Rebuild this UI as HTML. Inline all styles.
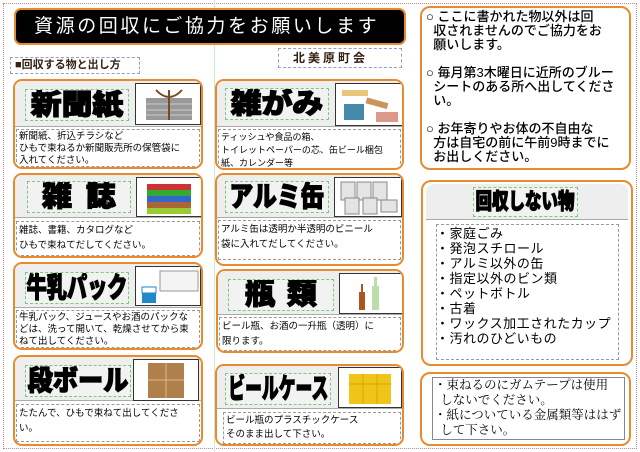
<!DOCTYPE html>
<html><head><meta charset="utf-8">
<style>
*{margin:0;padding:0;box-sizing:border-box}
body{width:640px;height:452px;background:#fff;position:relative;overflow:hidden;font-family:"Liberation Sans","Noto Sans CJK JP",sans-serif;color:#000}
.a{position:absolute}
.page{left:3px;top:3px;width:634px;height:446px;border:1px dotted #c88}
.vl{left:214px;top:0;width:1px;height:452px;background:#cfe8cf}
.title{left:14px;top:8px;width:392px;height:37px;background:#000;border:2px solid #e88a2e;border-radius:7px;color:#fff;font-size:19px;letter-spacing:2.6px;line-height:33px;padding-left:18px;white-space:nowrap;overflow:hidden}
.lab{border:1px dashed #99c;font-weight:bold;font-size:11px;line-height:15px;padding:0 4px;white-space:nowrap}
.card{border:2.5px solid #e88a2e;border-radius:9px;overflow:hidden;background:#fff}
.hd{position:absolute;left:0;top:0;right:0;background:#eee;border-bottom:1px solid #aaa}
.tt{position:absolute;border:1px dashed #7c7;font-weight:900;font-size:28px;line-height:30px;white-space:nowrap;text-align:center;background:#f2f2f2;overflow:hidden}
.tt span{display:inline-block;-webkit-text-stroke:1.2px #000;transform-origin:center}
.im{position:absolute;border:1px solid #333;background:#fff}
.tx{position:absolute;left:1px;right:1px;border:1px dashed #999;font-size:9.5px;line-height:12px;padding:1px 2px}
.box{border:2.5px solid #e88a2e;border-radius:10px;background:#fff}
.inn{position:absolute;border:1px dashed #999}
</style></head><body>
<div class="a page"></div>
<div class="a vl"></div>
<div class="a title">資源の回収にご協力をお願いします</div>
<div class="a lab" style="left:10px;top:57px;width:130px;height:17px;color:#321">■回収する物と出し方</div>
<div class="a lab" style="left:278px;top:48px;width:124px;height:20px;line-height:18px;font-size:12px;letter-spacing:3px;color:#321;padding-left:14px">北美原町会</div>

<div class="a card" style="left:13px;top:79px;width:190px;height:90px">
 <div class="hd" style="height:46px"></div>
 <div class="tt" style="left:10px;top:8px;width:104px;height:32px"><span style="transform:scaleX(1.1)">新聞紙</span></div>
 <div class="im" style="left:120px;top:2px;width:66px;height:42px"><svg width="64" height="40"><rect x="10" y="14" width="46" height="22" fill="#999"/><path d="M10 20h46M10 26h46M10 31h46" stroke="#ccc"/><path d="M33 6v30M20 6q13 14 26 0" stroke="#7a4a20" stroke-width="2" fill="none"/></svg></div>
 <div class="tx" style="top:48px;height:38px">新聞紙、折込チラシなど<br>ひもで束ねるか新聞販売所の保管袋に<br>入れてください。</div>
</div>
<div class="a card" style="left:13px;top:173px;width:190px;height:85px">
 <div class="hd" style="height:43px"></div>
 <div class="tt" style="left:12px;top:6px;width:104px;height:32px"><span style="letter-spacing:14px;margin-right:-14px;font-size:30px">雑誌</span></div>
 <div class="im" style="left:121px;top:2px;width:66px;height:40px"><svg width="64" height="38"><rect x="10" y="6" width="44" height="6" fill="#c33"/><rect x="10" y="12" width="44" height="6" fill="#3a3"/><rect x="10" y="18" width="44" height="6" fill="#36c"/><rect x="10" y="24" width="44" height="6" fill="#a63"/><rect x="10" y="30" width="44" height="6" fill="#9c3"/></svg></div>
 <div class="tx" style="top:46px;height:35px;line-height:15px">雑誌、書籍、カタログなど<br>ひもで束ねてだしてください。</div>
</div>
<div class="a card" style="left:13px;top:262px;width:190px;height:88px">
 <div class="hd" style="height:44px"></div>
 <div class="tt" style="left:10px;top:8px;width:104px;height:32px"><span style="transform:scaleX(0.72);margin:0 -30px">牛乳パック</span></div>
 <div class="im" style="left:120px;top:2px;width:66px;height:40px"><svg width="64" height="38"><rect x="24" y="4" width="38" height="20" fill="#f4f4f4" stroke="#999"/><rect x="6" y="22" width="14" height="14" fill="#28c"/><rect x="6" y="20" width="14" height="6" fill="#fff" stroke="#28c"/></svg></div>
 <div class="tx" style="top:46px;height:38px">牛乳パック、ジュースやお酒のパックな<br>どは、洗って開いて、乾燥させてから束<br>ねて出してください。</div>
</div>
<div class="a card" style="left:13px;top:355px;width:190px;height:91px">
 <div class="hd" style="height:44px"></div>
 <div class="tt" style="left:10px;top:8px;width:106px;height:32px"><span style="transform:scaleX(0.9);margin:0 -10px">段ボール</span></div>
 <div class="im" style="left:118px;top:2px;width:66px;height:42px"><svg width="64" height="40"><rect x="14" y="3" width="36" height="35" fill="#b0804a"/><path d="M32 3v35M14 20h36" stroke="#d8b890"/></svg></div>
 <div class="tx" style="top:47px;height:38px;line-height:15px">たたんで、ひもで束ねて出してくださ<br>い。</div>
</div>

<div class="a card" style="left:215px;top:79px;width:189px;height:91px">
 <div class="hd" style="height:46px"></div>
 <div class="tt" style="left:8px;top:7px;width:104px;height:32px"><span style="transform:scaleX(1.1)">雑がみ</span></div>
 <div class="im" style="left:118px;top:2px;width:68px;height:43px"><svg width="66" height="41"><rect x="6" y="6" width="26" height="6" fill="#e8c77a"/><rect x="8" y="20" width="20" height="16" fill="#48a"/><rect x="30" y="16" width="22" height="6" fill="#c9955a" transform="rotate(15 40 19)"/><rect x="40" y="28" width="22" height="10" fill="#d98"/></svg></div>
 <div class="tx" style="top:48px;height:40px;font-size:9px;line-height:13px">ティッシュや食品の箱、<br>トイレットペーパーの芯、缶ビール梱包<br>紙、カレンダー等</div>
</div>
<div class="a card" style="left:215px;top:173px;width:189px;height:93px">
 <div class="hd" style="height:43px"></div>
 <div class="tt" style="left:8px;top:6px;width:104px;height:32px"><span style="transform:scaleX(0.85);margin:0 -12px">アルミ缶</span></div>
 <div class="im" style="left:117px;top:2px;width:68px;height:40px"><svg width="66" height="38"><g fill="#e4e4e4" stroke="#888"><rect x="6" y="4" width="14" height="18"/><rect x="22" y="4" width="14" height="18"/><rect x="38" y="4" width="14" height="18"/><rect x="10" y="20" width="14" height="16"/><rect x="28" y="20" width="14" height="16"/><rect x="46" y="22" width="16" height="12"/></g></svg></div>
 <div class="tx" style="top:45px;height:40px;line-height:15px">アルミ缶は透明か半透明のビニール<br>袋に入れてだしてください。</div>
</div>
<div class="a card" style="left:216px;top:269px;width:188px;height:84px">
 <div class="hd" style="height:44px"></div>
 <div class="tt" style="left:10px;top:8px;width:106px;height:32px"><span style="letter-spacing:12px;margin-right:-12px;font-size:30px">瓶類</span></div>
 <div class="im" style="left:121px;top:2px;width:64px;height:41px"><svg width="62" height="39"><rect x="19" y="18" width="6" height="18" fill="#a52"/><rect x="21" y="10" width="2" height="8" fill="#a52"/><rect x="32" y="12" width="7" height="24" fill="#bda"/><rect x="34" y="3" width="3" height="9" fill="#bda"/></svg></div>
 <div class="tx" style="top:46px;height:34px;line-height:15px">ビール瓶、お酒の一升瓶（透明）に<br>限ります。</div>
</div>
<div class="a card" style="left:215px;top:364px;width:189px;height:82px">
 <div class="hd" style="height:43px"></div>
 <div class="tt" style="left:8px;top:7px;width:106px;height:32px"><span style="transform:scaleX(0.6);margin:0 -40px">ビールケース</span></div>
 <div class="im" style="left:121px;top:1px;width:64px;height:41px"><svg width="62" height="39"><rect x="10" y="6" width="42" height="30" fill="#f0c419"/><path d="M10 16h42M24 6v30M38 6v30" stroke="#d9a800"/></svg></div>
 <div class="tx" style="top:46px;height:32px;left:6px;line-height:14px">ビール瓶のプラスチックケース<br>そのまま出して下さい。</div>
</div>

<div class="a box" style="left:420px;top:6px;width:211px;height:164px">
 <div style="position:absolute;left:4px;top:2px;font-size:13px;line-height:14px;white-space:nowrap;font-weight:500">○ ここに書かれた物以外は回<br>&nbsp;&nbsp;収されませんのでご協力をお<br>&nbsp;&nbsp;願いします。<br>&nbsp;<br>○ 毎月第3木曜日に近所のブルー<br>&nbsp;&nbsp;シートのある所へ出してくださ<br>&nbsp;&nbsp;い。<br>&nbsp;<br>○ お年寄りやお体の不自由な<br>&nbsp;&nbsp;方は自宅の前に午前9時までに<br>&nbsp;&nbsp;お出しください。</div>
</div>
<div class="a box" style="left:421px;top:180px;width:212px;height:186px;overflow:hidden">
 <div style="position:absolute;left:3px;top:2px;right:3px;height:36px;background:#eee;border-bottom:1px solid #aaa;border-radius:8px 8px 0 0"></div>
 <div class="tt" style="left:50px;top:5px;width:105px;height:30px;font-size:22px;line-height:28px"><span style="transform:scaleX(0.75);margin:0 -16px">回収しない物</span></div>
 <div class="inn" style="left:13px;top:42px;width:183px;height:136px"></div>
 <div style="position:absolute;left:13px;top:44px;font-size:13px;line-height:15px;letter-spacing:0.5px">・家庭ごみ<br>・発泡スチロール<br>・アルミ以外の缶<br>・指定以外のビン類<br>・ペットボトル<br>・古着<br>・ワックス加工されたカップ<br>・汚れのひどいもの</div>
</div>
<div class="a box" style="left:420px;top:372px;width:211px;height:74px">
 <div class="inn" style="left:10px;top:3px;width:193px;height:63px;border-style:solid;border-color:#888"></div>
 <div style="position:absolute;left:12px;top:4px;font-size:12.5px;line-height:15px;white-space:nowrap;font-family:'Liberation Serif','Noto Serif CJK SC',serif">・束ねるのにガムテープは使用<br>&nbsp;&nbsp;しないでください。<br>・紙についている金属類等ははず<br>&nbsp;&nbsp;して下さい。</div>
</div>
</body></html>
